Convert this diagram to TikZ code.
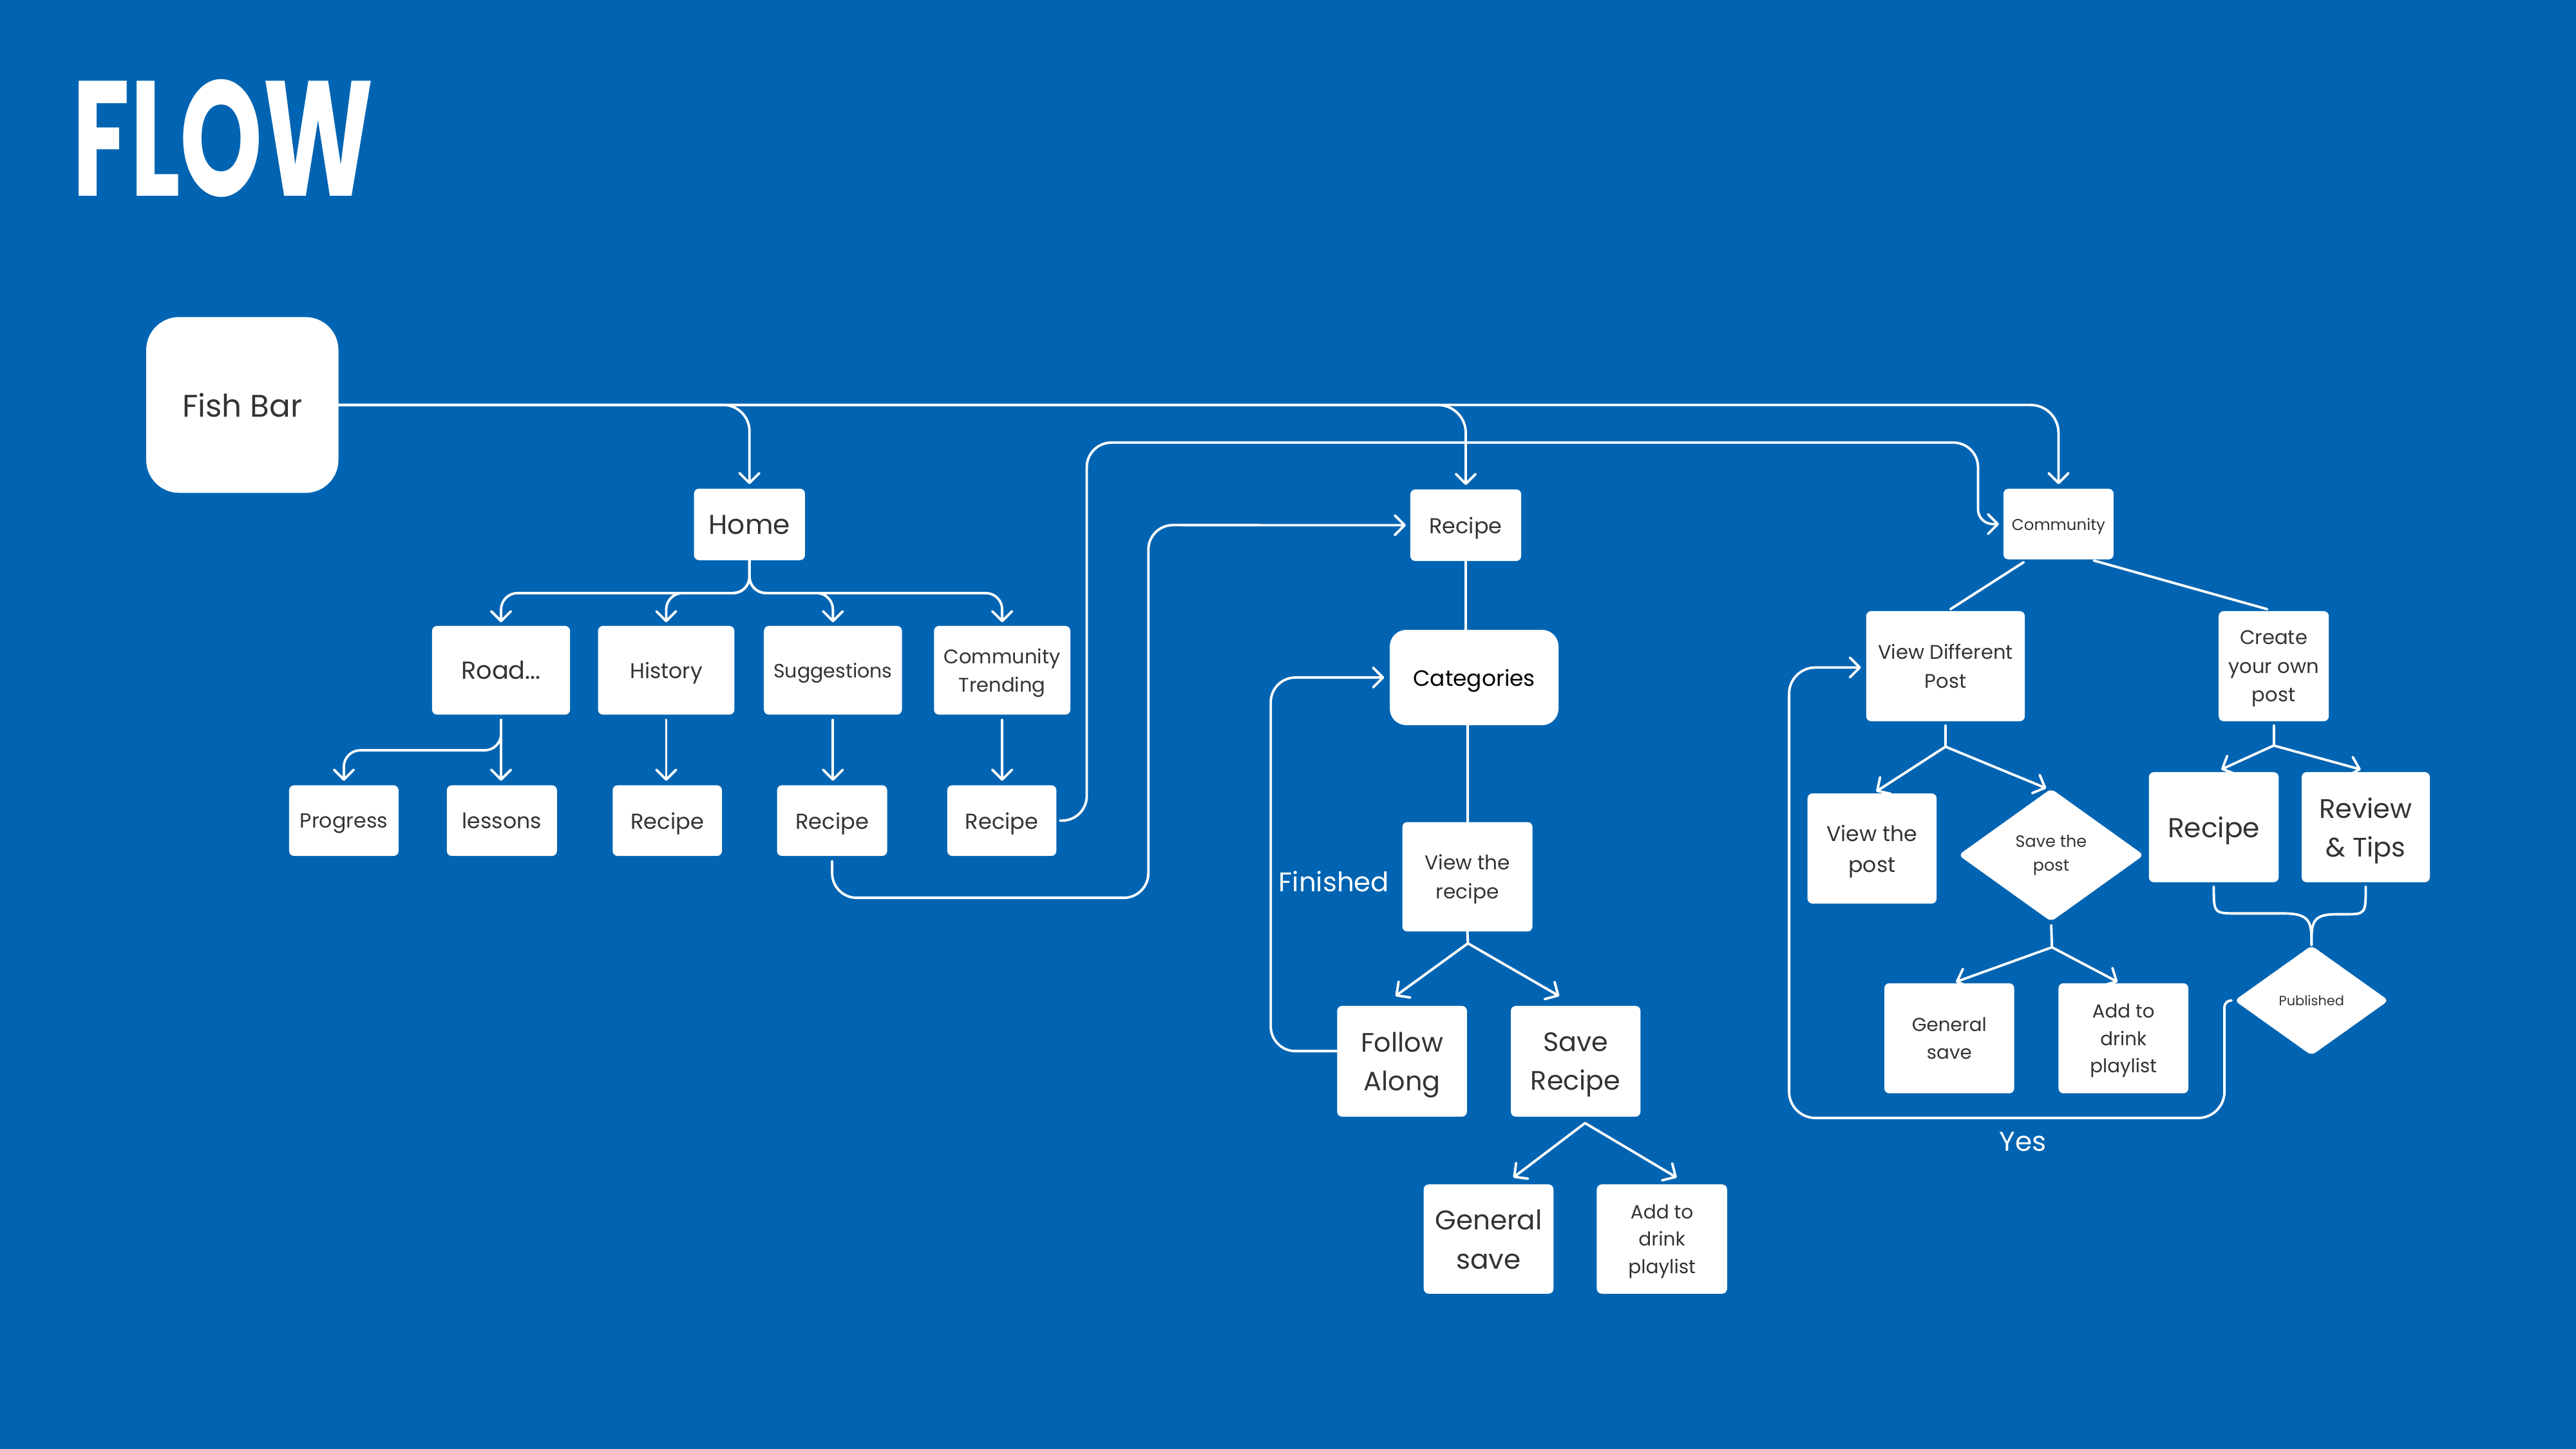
\documentclass[tikz,border=0pt]{standalone}
\usepackage{fontspec}
\usepackage{graphicx}
\setmainfont{Poppins}
\usetikzlibrary{arrows.meta,shapes.geometric,calc}
\definecolor{bg}{RGB}{0,100,178}
\definecolor{ink}{RGB}{51,51,51}
\newcommand\fz[1]{\fontsize{#1pt}{\dimexpr #1pt*145/100\relax}\selectfont}
\begin{document}
\begin{tikzpicture}[x=1pt,y=-1pt,
  box/.style={fill=white, rounded corners=3pt, inner sep=0pt, text=ink, align=center, text depth=0pt},
  conn/.style={draw=white, line width=1.5pt, line cap=round, line join=round},
  arr/.style={-{Straight Barb[length=6pt,width=12pt,line cap=round,line join=round]}},
  lbl/.style={text=white, anchor=base, inner sep=0pt},
  dia/.style={diamond, fill=white, inner sep=0pt, rounded corners=3pt, text=ink, align=center}]
\useasboundingbox (0,0) rectangle (1568,882);
\fill[bg] (0,0) rectangle (1568,882);

% title
\node[anchor=north west, inner sep=0pt, text=white] (title) at (44,48) {\resizebox{183pt}{71pt}{\bfseries FLOW}};

% left tree
\node[box, rounded corners=20pt, minimum width=117pt, minimum height=107pt, font=\fz{19}] (fish) at (147.5,246.5) {Fish Bar};
\node[box, minimum width=67.5pt, minimum height=43.5pt, font=\fz{16.6}] (home) at (456.2,319.2) {Home};
\node[box, minimum width=84pt, minimum height=54pt, font=\fz{15}] (road) at (305,408) {Road...};
\node[box, minimum width=83pt, minimum height=54pt, font=\fz{13}] (hist) at (405.5,408) {History};
\node[box, minimum width=84pt, minimum height=54pt, font=\fz{11.8}] (sugg) at (507,408) {Suggestions};
\node[box, minimum width=83pt, minimum height=54pt, font=\fz{12}] (ct) at (610,408) {Community\\Trending};
\node[box, minimum width=66.6pt, minimum height=43pt, font=\fz{12.4}] (prog) at (209.3,499.5) {Progress};
\node[box, minimum width=67pt, minimum height=43pt, font=\fz{13}] (less) at (305.5,499.5) {lessons};
\node[box, minimum width=66.5pt, minimum height=43pt, font=\fz{13.2}] (rec1) at (406.2,499.5) {Recipe};
\node[box, minimum width=67pt, minimum height=43pt, font=\fz{13.2}] (rec2) at (506.5,499.5) {Recipe};
\node[box, minimum width=66.4pt, minimum height=43pt, font=\fz{13.2}] (rec3) at (609.8,499.5) {Recipe};

% middle
\node[box, minimum width=67.5pt, minimum height=43.5pt, font=\fz{13.1}] (rec) at (892.2,319.7) {Recipe};
\node[box, rounded corners=10pt, minimum width=102.7pt, minimum height=58pt, text=black, font=\fz{13.5}] (cat) at (897.3,412.4) {Categories};
\node[box, minimum width=79.2pt, minimum height=66.6pt, font=\fz{12.2}] (vr) at (893.2,533.7) {View the\\recipe};
\node[box, minimum width=79pt, minimum height=67.4pt, font=\fz{16.2}] (fa) at (853.4,646) {Follow\\Along};
\node[box, minimum width=78.9pt, minimum height=67.4pt, font=\fz{16.2}] (sr) at (959.1,646) {Save\\Recipe};
\node[box, minimum width=79pt, minimum height=66.5pt, font=\fz{16.5}] (gs) at (906.1,754.2) {General\\save};
\node[box, minimum width=79.3pt, minimum height=66.5pt, font=\fz{11.6}] (ad) at (1011.6,754.2) {Add to\\drink\\playlist};
\node[lbl, font=\fz{16.4}] (fin) at (812,542.8) {Finished};

% right
\node[box, minimum width=67pt, minimum height=43pt, font=\fz{9.6}] (comm) at (1253,319) {Community};
\node[box, minimum width=96.5pt, minimum height=67pt, font=\fz{12}] (vdp) at (1184.2,405.5) {View Different\\Post};
\node[box, minimum width=67pt, minimum height=67pt, font=\fz{12}] (cyo) at (1384,405.5) {Create\\your own\\post};
\node[box, minimum width=78.6pt, minimum height=67pt, font=\fz{13}] (vtp) at (1139.5,516.5) {View the\\post};
\node[dia, minimum width=113pt, minimum height=81pt, font=\fz{10}] (stp) at (1248.5,520.5) {Save the\\post};
\node[box, minimum width=79pt, minimum height=67pt, font=\fz{16.6}] (recR) at (1347.5,503.5) {Recipe};
\node[box, minimum width=78pt, minimum height=67pt, font=\fz{16.3}] (rev) at (1440,503.5) {Review\\\&~Tips};
\node[box, minimum width=79pt, minimum height=67pt, font=\fz{11.5}] (gsR) at (1186.5,632) {General\\save};
\node[box, minimum width=79pt, minimum height=67pt, font=\fz{11.5}] (adR) at (1292.5,632) {Add to\\drink\\playlist};
\node[dia, minimum width=94pt, minimum height=67pt, font=\fz{8.2}] (pub) at (1407,609) {Published};
\node[lbl, font=\fz{16.6}] (yes) at (1231.3,700.6) {Yes};

% connectors from Fish Bar
\draw[conn, arr, rounded corners=17pt, shorten >=2.5pt] (fish.east) -| (comm.north);
\draw[conn, arr, rounded corners=17pt, shorten >=2.5pt] (fish.east) -| (rec.north);
\draw[conn, arr, rounded corners=16pt, shorten >=2.5pt] (fish.east) -| (home.north);

% Home fork
\draw[conn, arr, rounded corners=10pt, shorten >=2pt] (home.south) |- (road.north |- 0,361) -- (road.north);
\draw[conn, arr, rounded corners=10pt, shorten >=2pt] (home.south) |- (hist.north |- 0,361) -- (hist.north);
\draw[conn, arr, rounded corners=10pt, shorten >=2pt] (home.south) |- (sugg.north |- 0,361) -- (sugg.north);
\draw[conn, arr, rounded corners=10pt, shorten >=2pt] (home.south) |- (ct.north |- 0,361) -- (ct.north);

% second row to third row
\draw[conn, arr, shorten <=3pt, shorten >=2.5pt] (road.south) -- (road.south |- less.north);
\draw[conn, arr, rounded corners=10pt, shorten <=3pt, shorten >=2.5pt] (road.south) |- (prog.north |- 0,456.7) -- (prog.north);
\draw[conn, arr, shorten <=3pt, shorten >=2.5pt] (hist.south) -- (hist.south |- rec1.north);
\draw[conn, arr, shorten <=3pt, shorten >=2.5pt] (sugg.south) -- (sugg.south |- rec2.north);
\draw[conn, arr, shorten <=3pt, shorten >=2.5pt] (ct.south) -- (ct.south |- rec3.north);

% Recipe (trending) -> Community
\draw[conn, arr, shorten <=2pt, shorten >=2.5pt] (rec3.east) [rounded corners=15pt] -- (661.5,499.5) -- (661.5,269.4) -- (1204,269.4) [rounded corners=9pt] -- (1204,319) -- (comm.west);
% Recipe (suggestions) -> Recipe
\draw[conn, arr, rounded corners=15pt, shorten <=3pt, shorten >=2.5pt] (rec2.south) -- (506.5,546.5) -- (699,546.5) -- (699,319.6) -- (rec.west);

% middle column
\draw[conn] (rec.south) -- (rec.south |- cat.north);
\draw[conn] (vr.north |- cat.south) -- (vr.north);
\coordinate (vrf) at (893.5,574.2);
\draw[conn] (vr.south) -- (vrf);
\draw[conn, arr] (vrf) -- ($(fa.north)+(-4,-5.8)$);
\draw[conn, arr] (vrf) -- ($(sr.north)+(-10,-5.8)$);
\draw[conn, arr, rounded corners=15pt, shorten >=3.2pt] ([yshift=6.2pt]fa.west) -- (773.5,639.8) -- (773.5,412.4) -- (cat.west);
\coordinate (srf) at (964.8,683.6);
\draw[conn, arr] (srf) -- ($(gs.north)+(15,-4)$);
\draw[conn, arr] (srf) -- ($(ad.north)+(9,-4)$);

% right column
\draw[conn] ($(comm.south west)+(12.5,1.5)$) -- ($(vdp.north)+(3,-1)$);
\draw[conn] ($(comm.south)+(21.5,0.5)$) -- ($(cyo.north)+(-4,-1)$);
\coordinate (vdpf) at (1184.2,454.5);
\draw[conn, shorten <=2.5pt] (vdp.south) -- (vdpf);
\draw[conn, arr] (vdpf) -- ($(vtp.north)+(2.5,-1)$);
\draw[conn, arr] (vdpf) -- ($(stp.north)+(-3,0)$);
\coordinate (cyof) at (1384,453.8);
\draw[conn, shorten <=2.5pt] (cyo.south) -- (cyof);
\draw[conn, arr] (cyof) -- ($(recR.north)+(4.5,-1.4)$);
\draw[conn, arr] (cyof) -- ($(rev.north)+(-3,-1.4)$);
\coordinate (stpf) at (1249,576.6);
\draw[conn, shorten <=2pt] (stp.south) -- (stpf);
\draw[conn, arr] (stpf) -- ($(gsR.north)+(4,-0.6)$);
\draw[conn, arr] (stpf) -- ($(adR.north)+(-3.5,-0.6)$);

% Recipe / Review -> Published
\draw[conn, shorten <=2.5pt] (recR.south) .. controls (1347.5,556) .. (1362,556) -- (1390,556) .. controls (1407,556) and (1407,562) .. (pub.north);
\draw[conn, shorten <=2.5pt] (rev.south) .. controls (1440,556.5) .. (1427,556.5) -- (1422,556.5) .. controls (1407,556.5) and (1407,562) .. (pub.north);

% Published -> View Different Post (Yes)
\draw[conn, arr, shorten <=1.5pt, shorten >=3pt] (pub.west) [rounded corners=4pt] -- (1354,609) [rounded corners=16pt] -- (1354,680.5) -- (1089,680.5) -- (1089,406.3) -- (vdp.west |- 0,406.3);
\end{tikzpicture}
\end{document}
